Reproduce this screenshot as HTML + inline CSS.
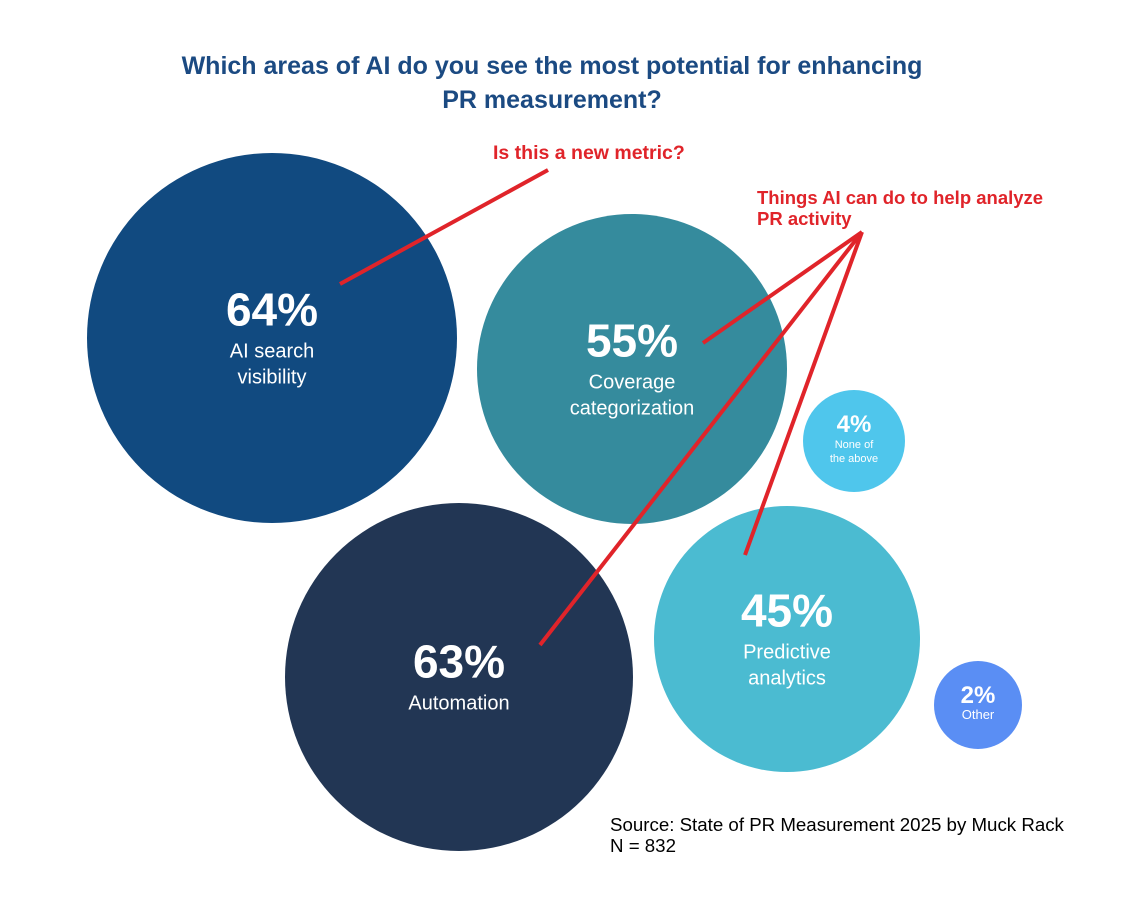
<!DOCTYPE html>
<html><head><meta charset="utf-8"><style>
body{margin:0;background:#fff;width:1124px;height:912px;overflow:hidden;font-family:"Liberation Sans",sans-serif}
</style></head><body>
<svg id="chart" width="1124" height="912" viewBox="0 0 1124 912" xmlns="http://www.w3.org/2000/svg">
<text x="552" y="74" text-anchor="middle" font-size="25" font-weight="bold" fill="#1b4a82">Which areas of AI do you see the most potential for enhancing</text>
<text x="552" y="108" text-anchor="middle" font-size="25" font-weight="bold" fill="#1b4a82">PR measurement?</text>
<g id="bubbles"></g>
<g stroke="#e0242a" stroke-width="4" fill="none">
<line x1="340" y1="284" x2="548" y2="170"/>
<line x1="862" y1="232" x2="703" y2="343"/>
<line x1="862" y1="232" x2="540" y2="645"/>
<line x1="862" y1="232" x2="745" y2="555"/>
</g>
<text x="493" y="159" font-size="19.5" font-weight="bold" fill="#e0242a">Is this a new metric?</text>
<text x="757" y="204" font-size="18.5" font-weight="bold" fill="#e0242a">Things AI can do to help analyze</text>
<text x="757" y="225" font-size="18.5" font-weight="bold" fill="#e0242a">PR activity</text>
<text x="610" y="831" font-size="18.7" fill="#000">Source: State of PR Measurement 2025 by Muck Rack</text>
<text x="610" y="852" font-size="18.7" fill="#000">N = 832</text>
</svg>
<script>
const categories = ["AI search visibility","Coverage categorization","None of the above","Automation","Predictive analytics","Other"];
const values = [64,55,4,63,45,2];
const labelLines = [["AI search","visibility"],["Coverage","categorization"],["None of","the above"],["Automation"],["Predictive","analytics"],["Other"]];
// layout (not data)
const layout = [
 {cx:272,cy:338,r:185,c:"#114a80"},
 {cx:632,cy:369,r:155,c:"#358b9d"},
 {cx:854,cy:441,r:51,c:"#4fc6ec"},
 {cx:459,cy:677,r:174,c:"#223654"},
 {cx:787,cy:639,r:133,c:"#4bbbd1"},
 {cx:978,cy:705,r:44,c:"#5a8ef4"}
];
const NS="http://www.w3.org/2000/svg";
const g=document.getElementById('bubbles');
values.forEach((v,i)=>{
 const L=layout[i];
 const big=L.r>100;
 const c=document.createElementNS(NS,'circle');
 
 
 c.setAttribute('cx',L.cx);c.setAttribute('cy',L.cy);c.setAttribute('r',L.r);c.setAttribute('fill',L.c);
 g.appendChild(c);
 const lines=labelLines[i];
 const pf=big?46:24, lf=big?20:(lines.length>1?11:13), lh=big?26:14;
 const total=pf*0.75+8+lh*lines.length;
 let y=L.cy-total/2+pf*0.75;
 const t=document.createElementNS(NS,'text');
 
 
 t.setAttribute('x',L.cx);t.setAttribute('y',y);t.setAttribute('text-anchor','middle');
 t.setAttribute('font-size',pf);t.setAttribute('font-weight','bold');t.setAttribute('fill','#fff');
 t.textContent=v+'%';g.appendChild(t);
 y+=big?32:16;
 lines.forEach(s=>{
  const l=document.createElementNS(NS,'text');
  
  
  l.setAttribute('x',L.cx);l.setAttribute('y',y);l.setAttribute('text-anchor','middle');
  l.setAttribute('font-size',lf);l.setAttribute('fill','#fff');
  l.textContent=s;g.appendChild(l);y+=lh;
 });
});
</script>
</body></html>
